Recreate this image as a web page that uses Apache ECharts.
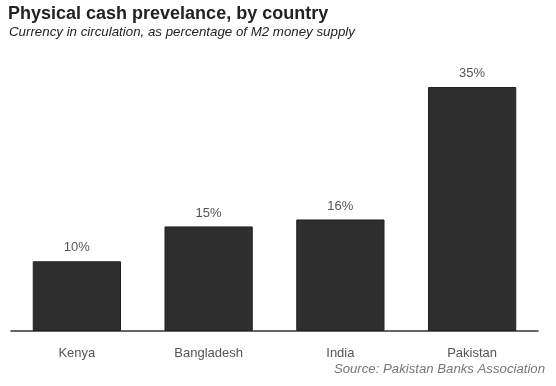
<!DOCTYPE html>
<html><head><meta charset="utf-8">
<script src="https://cdn.jsdelivr.net/npm/echarts@6/dist/echarts.min.js"></script>
<style>html,body{margin:0;padding:0;background:#fff}#c{width:556px;height:386px}</style>
</head><body><div id="c"></div>
<script>
const categories = ["Kenya", "Bangladesh", "India", "Pakistan"];
const values = [10, 15, 16, 35];
const labelSuffix = "%";

const chart = echarts.init(document.getElementById('c'), null, {renderer: 'canvas'});
const F = "Liberation Sans, Arial, sans-serif";
chart.setOption({
  animation: false,
  backgroundColor: '#fff',
  title: [
    {text: 'Physical cash prevelance, by country', left: 8, top: 5, padding: 0,
     textStyle: {fontFamily: F, fontSize: 18, fontWeight: 'bold', color: '#222'}},
    {text: 'Currency in circulation, as percentage of M2 money supply', left: 9, top: 26, padding: 0,
     textStyle: {fontFamily: F, fontSize: 13.3, fontStyle: 'italic', fontWeight: 'normal', color: '#222'}},
    {text: 'Source: Pakistan Banks Association', right: 11, top: 363, padding: 0,
     textStyle: {fontFamily: F, fontSize: 13.2, fontStyle: 'italic', fontWeight: 'normal', color: '#777'}}
  ],
  grid: {left: 11, right: 18, top: 87, bottom: 55, containLabel: false},
  xAxis: {
    type: 'category', data: categories,
    axisLine: {show: true, lineStyle: {color: '#333', width: 1.5}},
    axisTick: {show: false},
    axisLabel: {fontFamily: F, fontSize: 13, color: '#555', margin: 16}
  },
  yAxis: {
    type: 'value', min: 0, max: 35,
    show: false, splitLine: {show: false}
  },
  series: [{
    type: 'bar', data: values, barCategoryGap: '33%',
    itemStyle: {color: '#2e2e2e', borderColor: '#222', borderWidth: 1},
    label: {show: true, position: 'top', distance: 7, formatter: p => p.value + labelSuffix,
      fontFamily: F, fontSize: 13, color: '#555'}
  }]
});
</script></body></html>
